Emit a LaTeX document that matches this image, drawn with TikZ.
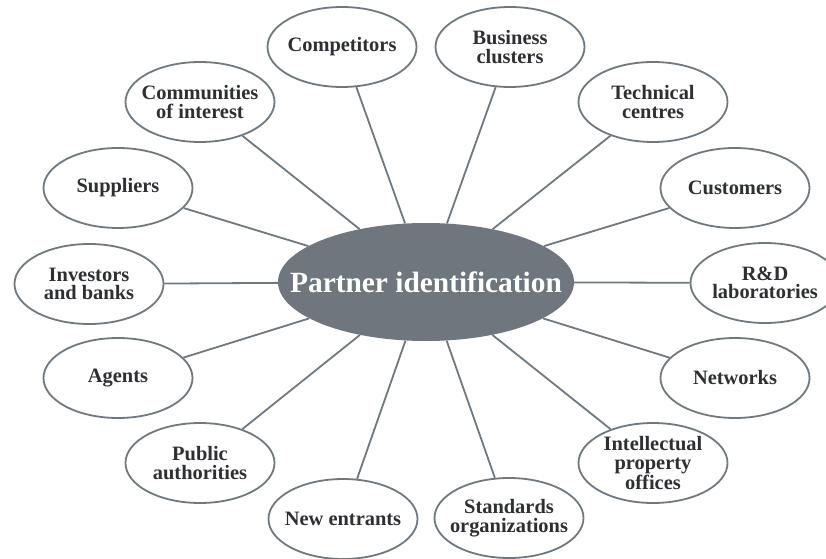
\documentclass[tikz,border=0pt]{standalone}
\usepackage{fontspec}
\setmainfont{Liberation Serif}
\usetikzlibrary{shapes.geometric}
\definecolor{linegray}{RGB}{112,120,127}
\definecolor{hubgray}{RGB}{111,118,125}
\definecolor{textgray}{RGB}{45,47,51}
\begin{document}
\begin{tikzpicture}[
        x=1bp, y=-1bp,
        spoke/.style={ellipse, draw=linegray, line width=1.8bp, fill=white,
            minimum width=149bp, minimum height=80bp,
            inner xsep=-30bp, inner ysep=-20bp,
            align=center, text=textgray,
            font=\bfseries\fontsize{20.5}{18.5}\selectfont},
        hub/.style={ellipse, fill=hubgray, minimum width=296bp,
            minimum height=118bp, inner xsep=-60bp, inner ysep=-20bp,
            text=white, font=\bfseries\fontsize{29.5}{30}\selectfont},
        link/.style={draw=linegray, line width=1.8bp},
    ]
        \useasboundingbox (0,0) rectangle (826,559);

        % centre
        \node[hub] (partner) at (426,282) {Partner identification};

        % partners around it
        \node[spoke] (comp) at (342,47) {Competitors};
        \node[spoke] (clust) at (510,47) {Business\\clusters};
        \node[spoke] (tech) at (653,102) {Technical\\centres};
        \node[spoke] (cust) at (735,188) {Customers};
        \node[spoke] (rnd) at (765,283) {R\&D\\laboratories};
        \node[spoke] (netw) at (735,378) {Networks};
        \node[spoke] (ipo) at (653,463) {Intellectual\\property\\offices};
        \node[spoke] (stand) at (509,518) {Standards\\organizations};
        \node[spoke] (newent) at (343,519) {New entrants};
        \node[spoke] (pub) at (200,463) {Public\\authorities};
        \node[spoke] (agent) at (118,378) {Agents};
        \node[spoke] (invest) at (89,284) {Investors\\and banks};
        \node[spoke] (suppl) at (118,188) {Suppliers};
        \node[spoke] (commun) at (200,102) {Communities\\of interest};

        \foreach \p in {comp,clust,tech,cust,rnd,netw,ipo,stand,newent,pub,agent,invest,suppl,commun}
            \draw[link] (\p) -- (partner);
    \end{tikzpicture}
\end{document}
